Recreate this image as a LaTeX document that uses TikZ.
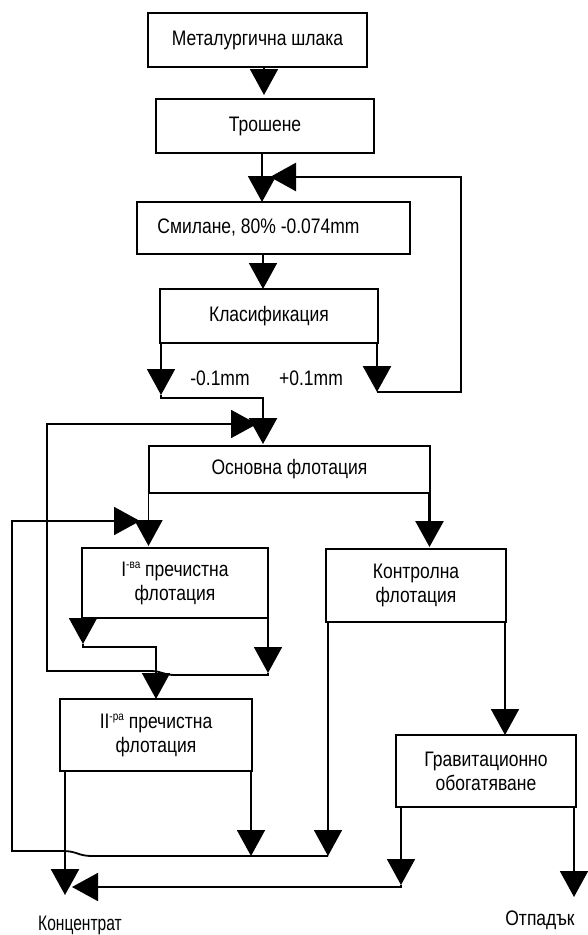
\documentclass[tikz,border=0pt]{standalone}
\usepackage{fontspec}
\setmainfont{Liberation Sans}
\usetikzlibrary{arrows.meta,calc}
\newcommand{\tx}[1]{\scalebox{1}[1.2]{#1}}
\newcommand{\supr}[1]{\raisebox{6pt}{\fontsize{10}{10}\selectfont #1}}
\begin{document}
\begin{tikzpicture}[x=1pt,y=-1pt,
  box/.style={draw, line width=1.8pt, rectangle, inner sep=0pt, outer sep=0pt, align=center, font=\fontsize{17.5}{24}\selectfont},
  conn/.style={line width=1.8pt},
  thk/.style={line width=2.6pt},
  arr/.style={-{Triangle[width=28pt,length=26pt]}},
  lbl/.style={inner sep=0pt, font=\fontsize{17.5}{20}\selectfont}]
\useasboundingbox (0,0) rectangle (587,935);

% boxes
\node[box, minimum width=219pt, minimum height=54pt] (b1) at (257.5,40) {\tx{Металургична шлака}};
\node[box, minimum width=218pt, minimum height=54pt] (b2) at (265,126) {\tx{Трошене}};
\node[box, minimum width=273pt, minimum height=52pt] (b3) at (273.5,228) {\tx{Смилане, 80\% -0.074mm}\hspace*{30pt}};
\node[box, minimum width=218pt, minimum height=54pt] (b4) at (269,316) {\tx{Класификация}};
\node[box, minimum width=281pt, minimum height=47pt] (b5) at (289.5,469.5) {\tx{Основна флотация}};
\node[box, minimum width=186pt, minimum height=70pt] (b6) at (175,583) {\tx{I\supr{-ва} пречистна}\\\tx{флотация}};
\node[box, minimum width=180pt, minimum height=73pt] (b7) at (416,585.5) {\tx{Контролна}\\\tx{флотация}};
\node[box, minimum width=192pt, minimum height=72pt] (b8) at (156,735) {\tx{II\supr{-ра} пречистна}\\\tx{флотация}};
\node[box, minimum width=180pt, minimum height=72pt] (b9) at (486,771) {\tx{Гравитационно}\\\tx{обогатяване}};

% labels
\node[lbl] (l1) at (220,378) {\tx{-0.1mm}};
\node[lbl] (l2) at (311,378) {\tx{+0.1mm}};
\node[lbl] (conc) at (80,925) {\scalebox{0.89}[1.2]{Концентрат}};
\node[lbl] (waste) at (540,920) {\tx{Отпадък}};

% top chain
\draw[conn,arr] ([xshift=6.5pt]b1.south) -- ++(0,28);
\draw[conn,arr] ([xshift=-3pt]b2.south) -- ([xshift=-3pt]b2.south |- b3.north);
\draw[conn,arr] ([xshift=-10.5pt]b3.south) -- ([xshift=-10.5pt]b3.south |- b4.north);

% recycle +0.1mm
\draw[thk,arr] ([xshift=-1pt]b4.south east) -- ++(0,49) coordinate (rl);
\coordinate (rc) at (461,392);
\coordinate (rt) at (461,177);
\coordinate (re) at (270,177);
\draw[thk,arr] (rl) -- (rc) -- (rt) -- (re);

% -0.1mm to main flotation
\draw[conn,arr] ([xshift=1pt]b4.south west) -- ++(0,52) coordinate (cl);
\draw[thk,arr] (cl) -- ++(0,3) -| ([xshift=-26.5pt,yshift=2pt]b5.north);

% main flotation outputs
\draw[conn,arr] ([xshift=-0.5pt]b5.south west) -- ([xshift=-0.5pt,yshift=2pt]b5.south west |- b6.north);
\draw[thk,arr] ([xshift=-0.5pt]b5.south east) -- ([xshift=-0.5pt,yshift=2pt]b5.south east |- b7.north);

% I cleaner tailings back to main flotation
\draw[conn,arr] (b6.south east) -- ++(0,55) coordinate (ca);
\coordinate (ca1) at (175,675);
\coordinate (ca2) at (150,671);
\coordinate (ca3) at (47,671);
\coordinate (ca4) at (47,424);
\coordinate (ca5) at (257,424);
\draw[conn,arr] (ca) |- (ca1) .. controls (162,675) and (163,671) .. (ca2) -- (ca3) -- (ca4) -- (ca5);

% I cleaner concentrate to II cleaner
\draw[conn,arr] ([xshift=1pt]b6.south west) -- ++(0,26) coordinate (cb);
\draw[conn,arr] (cb) -- ++(0,3) -| (b8.north);

% control flotation
\draw[conn,arr] ([xshift=-1pt]b7.south east) -- ([xshift=-1pt]b7.south east |- b9.north);
\draw[conn,arr] ([xshift=2pt]b7.south west) -- ++(0,234) coordinate (cc);
\coordinate (cc1) at (92,856);
\coordinate (cc2) at (63,851);
\coordinate (cc3) at (12,851);
\coordinate (cc4) at (12,521);
\coordinate (cc5) at (140,521);
\draw[conn,arr] (cc) -- (cc1) .. controls (78,856) and (77,851) .. (cc2) -- (cc3) -- (cc4) -- (cc5);

% II cleaner outputs
\draw[conn,arr] ([xshift=-1pt]b8.south east) -- ++(0,85);
\draw[thk,arr] ([xshift=5pt]b8.south west) -- ++(0,124);

% gravity outputs
\draw[conn,arr] ([xshift=5pt]b9.south west) -- ++(0,78) coordinate (cd);
\coordinate (cd1) at (72,887);
\draw[conn,arr] (cd) -- ++(0,2) -- (cd1);
\draw[conn,arr] ([xshift=-2pt]b9.south east) -- ++(0,90);
\end{tikzpicture}
\end{document}
